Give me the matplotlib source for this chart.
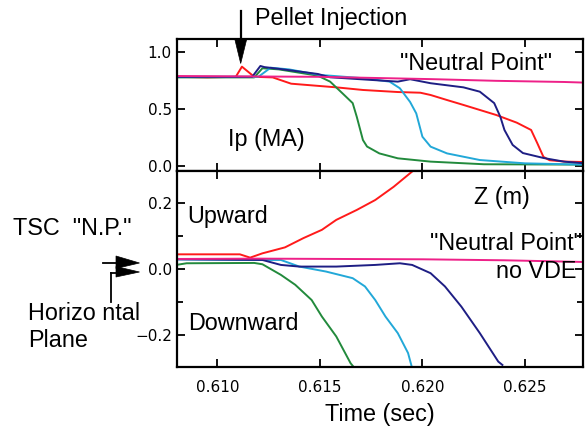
import matplotlib
matplotlib.use("Agg")
import matplotlib.pyplot as plt
from matplotlib.patches import Polygon
from matplotlib.lines import Line2D
from matplotlib.ticker import MultipleLocator

# ---------------- data ----------------
# Plasma current Ip (MA)
t_ip_red = [0.6080, 0.6095, 0.6109, 0.6112, 0.6116, 0.6118, 0.6127, 0.6136, 0.6158,
            0.6171, 0.6188, 0.6199, 0.6204, 0.6212, 0.6220, 0.6228, 0.6236, 0.6246,
            0.6253, 0.6256, 0.6259, 0.6262, 0.6270, 0.6278]
ip_red = [0.78, 0.775, 0.78, 0.869, 0.81, 0.78, 0.775, 0.72, 0.688,
          0.665, 0.647, 0.641, 0.621, 0.577, 0.534, 0.49, 0.446, 0.379,
          0.315, 0.20, 0.08, 0.05, 0.038, 0.035]

t_ip_navy = [0.6080, 0.6117, 0.6121, 0.6123, 0.6130, 0.6149, 0.6155, 0.6188, 0.6194,
             0.6204, 0.6220, 0.6228, 0.6235, 0.6238, 0.6240, 0.6244, 0.6249, 0.6259,
             0.6269, 0.6278]
ip_navy = [0.78, 0.78, 0.875, 0.865, 0.85, 0.805, 0.776, 0.738, 0.759,
           0.724, 0.688, 0.65, 0.55, 0.43, 0.315, 0.184, 0.113, 0.07,
           0.038, 0.025]

t_ip_green = [0.6080, 0.6118, 0.6122, 0.6130, 0.6149, 0.6155, 0.6161, 0.6166, 0.6168,
              0.6171, 0.6173, 0.6179, 0.6188, 0.6204, 0.6230, 0.6278]
ip_green = [0.775, 0.775, 0.855, 0.845, 0.79, 0.738, 0.636, 0.55, 0.43,
            0.227, 0.17, 0.11, 0.067, 0.038, 0.015, 0.012]

t_ip_cyan = [0.6080, 0.6120, 0.6126, 0.6135, 0.6150, 0.6155, 0.6171, 0.6184, 0.6189,
             0.6194, 0.6197, 0.6200, 0.6204, 0.6212, 0.6228, 0.6250, 0.6278]
ip_cyan = [0.78, 0.78, 0.86, 0.845, 0.796, 0.79, 0.768, 0.738, 0.68,
           0.56, 0.46, 0.256, 0.169, 0.11, 0.052, 0.023, 0.012]

t_ip_mag = [0.6080, 0.6150, 0.6204, 0.6236, 0.6269, 0.6278]
ip_mag = [0.787, 0.78, 0.76, 0.745, 0.735, 0.73]

# Vertical position Z (m)
t_z_red = [0.6080, 0.6111, 0.6116, 0.6122, 0.6133, 0.6142, 0.6151, 0.6158, 0.6168,
           0.6177, 0.6186, 0.6195, 0.6198]
z_red = [0.044, 0.044, 0.034, 0.047, 0.065, 0.093, 0.118, 0.148, 0.178,
         0.208, 0.248, 0.294, 0.31]

t_z_navy = [0.6080, 0.6122, 0.6131, 0.6140, 0.6158, 0.6177, 0.6189, 0.6195, 0.6204,
            0.6211, 0.6219, 0.6228, 0.6237, 0.6239]
z_navy = [0.029, 0.027, 0.012, 0.007, 0.007, 0.012, 0.017, 0.012, -0.013,
          -0.053, -0.114, -0.194, -0.28, -0.29]

t_z_green = [0.6080, 0.6085, 0.6118, 0.6122, 0.6131, 0.6138, 0.6146, 0.6151, 0.6158,
             0.6165, 0.6167]
z_green = [0.012, 0.017, 0.018, 0.014, -0.018, -0.048, -0.094, -0.144, -0.204,
           -0.285, -0.30]

t_z_cyan = [0.6080, 0.6122, 0.6131, 0.6140, 0.6153, 0.6166, 0.6172, 0.6177, 0.6182,
            0.6188, 0.6193, 0.6195]
z_cyan = [0.029, 0.027, 0.027, 0.007, -0.008, -0.028, -0.053, -0.094, -0.144,
          -0.194, -0.254, -0.30]

t_z_mag = [0.6080, 0.6120, 0.6160, 0.6200, 0.6240, 0.6278]
z_mag = [0.030, 0.031, 0.030, 0.029, 0.026, 0.021]

x_ticks = [0.610, 0.615, 0.620, 0.625]
x_ticklabels = ["0.610", "0.615", "0.620", "0.625"]

# ---------------- styling ----------------
C_RED = "#ff1a1a"
C_NAVY = "#1e1e84"
C_GREEN = "#228a3c"
C_CYAN = "#22a8d8"
C_MAG = "#ee2088"

TXT = ["Liberation Sans", "DejaVu Sans"]
FS = 16.8
W, H = 587, 429

fig = plt.figure(figsize=(W / 100, H / 100), dpi=100)


def P(x, y):
    return (x / W, 1 - y / H)


ax1 = fig.add_axes([176.7 / W, 1 - 171 / H, (583 - 176.7) / W, (171 - 39) / H])
ax2 = fig.add_axes([176.7 / W, 1 - 366.5 / H, (583 - 176.7) / W, (366.5 - 171) / H])

lw = 1.4
for t, v, c in [(t_ip_red, ip_red, C_RED), (t_ip_green, ip_green, C_GREEN),
                (t_ip_cyan, ip_cyan, C_CYAN), (t_ip_navy, ip_navy, C_NAVY),
                (t_ip_mag, ip_mag, C_MAG)]:
    ax1.plot(t, v, color=c, lw=lw)

for t, v, c in [(t_z_red, z_red, C_RED), (t_z_green, z_green, C_GREEN),
                (t_z_cyan, z_cyan, C_CYAN), (t_z_navy, z_navy, C_NAVY),
                (t_z_mag, z_mag, C_MAG)]:
    ax2.plot(t, v, color=c, lw=lw)

for ax in (ax1, ax2):
    ax.set_xlim(0.60802, 0.62783)
    ax.set_xticks(x_ticks)
    for s in ax.spines.values():
        s.set_linewidth(1.6)
    ax.tick_params(which="both", direction="in", top=True, right=True,
                   width=1.3, labelsize=11, colors="black")
    ax.tick_params(which="major", length=6)
    ax.tick_params(which="minor", length=4)
    ax.tick_params(axis="y", pad=3.5)
    ax.tick_params(axis="x", pad=9.5)

ax1.set_ylim(-0.044, 1.111)
ax1.set_yticks([0.0, 0.5, 1.0])
ax1.set_yticklabels(["0.0", "0.5", "1.0"])
ax1.set_xticklabels([])

ax2.set_ylim(-0.2947, 0.2956)
ax2.set_yticks([-0.2, 0.0, 0.2])
ax2.set_yticklabels(["\u22120.2", "0.0", "0.2"])
ax2.yaxis.set_minor_locator(MultipleLocator(0.1))
ax2.set_xticklabels(x_ticklabels)
ax2.set_xlabel("Time (sec)", fontsize=FS, family=TXT, labelpad=6)

for a in ax1.get_yticklabels() + ax2.get_yticklabels() + ax2.get_xticklabels():
    a.set_family(["DejaVu Sans"])

# ---------------- annotations ----------------
def T(x, y, s, ha="left"):
    fig.text(*P(x, y), s, fontsize=FS, family=TXT, ha=ha, va="baseline")

T(255, 24.5, "Pellet Injection")
T(400, 70, "\"Neutral Point\"")
T(228, 146, "Ip (MA)")
T(474, 204, "Z (m)")
T(187, 222.5, "Upward")
T(13, 235, "TSC  \"N.P.\"")
T(582, 250, "\"Neutral Point\"", ha="right")
T(576, 278, "no VDE", ha="right")
T(188, 329.5, "Downward")
T(28, 320, "Horizo ntal")
T(28, 347, "Plane")

# pellet injection arrow
fig.add_artist(Line2D([P(240.7, 11)[0], P(240.7, 42)[0]],
                      [P(240.7, 11)[1], P(240.7, 42)[1]],
                      transform=fig.transFigure, color="black", lw=1.6))
fig.add_artist(Polygon([P(235, 40), P(246.5, 40), P(240.7, 63.5)], closed=True,
                       transform=fig.transFigure, facecolor="black",
                       edgecolor="black", lw=0.5))

# TSC N.P. / horizontal plane arrows
fig.add_artist(Line2D([P(103, 263.3)[0], P(117, 263.3)[0]],
                      [P(103, 263.3)[1], P(117, 263.3)[1]],
                      transform=fig.transFigure, color="black", lw=1.3))
fig.add_artist(Polygon([P(116, 256), P(116, 268.5), P(139.5, 263)], closed=True,
                       transform=fig.transFigure, facecolor="black",
                       edgecolor="black", lw=0.5))
fig.add_artist(Polygon([P(116, 266.5), P(116, 277), P(139.5, 272)], closed=True,
                       transform=fig.transFigure, facecolor="black",
                       edgecolor="black", lw=0.5))
fig.add_artist(Line2D([P(110.7, 273.3)[0], P(117, 273.3)[0]],
                      [P(110.7, 273.3)[1], P(117, 273.3)[1]],
                      transform=fig.transFigure, color="black", lw=1.3))
fig.add_artist(Line2D([P(110.7, 273.3)[0], P(110.7, 301.7)[0]],
                      [P(110.7, 273.3)[1], P(110.7, 301.7)[1]],
                      transform=fig.transFigure, color="black", lw=1.3))

fig.savefig("out.png", dpi=100)
